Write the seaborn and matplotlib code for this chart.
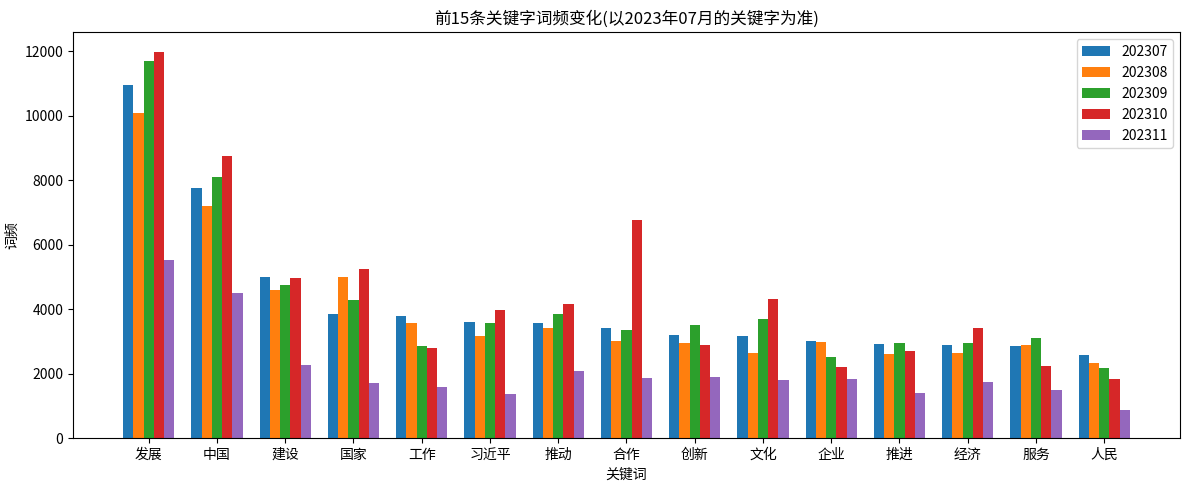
import matplotlib
matplotlib.use("Agg")

import matplotlib.pyplot as plt
import pandas as pd
import seaborn as sns

keywords = ["发展", "中国", "建设", "国家", "工作", "习近平", "推动", "合作",
            "创新", "文化", "企业", "推进", "经济", "服务", "人民"]
months = ["202307", "202308", "202309", "202310", "202311"]

freq_202307 = [10950, 7750, 4985, 3865, 3800, 3615, 3555, 3430, 3210, 3180, 3025, 2930, 2900, 2870, 2590]
freq_202308 = [10080, 7190, 4580, 4985, 3585, 3180, 3430, 3025, 2965, 2650, 2995, 2620, 2650, 2900, 2340]
freq_202309 = [11700, 8090, 4765, 4270, 2870, 3555, 3865, 3365, 3520, 3710, 2530, 2965, 2965, 3120, 2185]
freq_202310 = [11990, 8745, 4955, 5235, 2810, 3960, 4175, 6755, 2900, 4330, 2215, 2715, 3400, 2250, 1845]
freq_202311 = [5510, 4515, 2280, 1720, 1595, 1375, 2095, 1875, 1905, 1815, 1845, 1410, 1750, 1500, 880]

series = [freq_202307, freq_202308, freq_202309, freq_202310, freq_202311]
colors = ["#1f77b4", "#ff7f0e", "#2ca02c", "#d62728", "#9467bd"]

rows = []
for month, values in zip(months, series):
    for kw, v in zip(keywords, values):
        rows.append({"关键词": kw, "月份": month, "词频": v})
df = pd.DataFrame(rows)

plt.rcParams["font.family"] = ["Noto Sans CJK SC", "DejaVu Sans"]
plt.rcParams["axes.unicode_minus"] = False

fig, ax = plt.subplots(figsize=(11.9, 4.9), dpi=100)
sns.barplot(
    data=df,
    x="关键词",
    y="词频",
    hue="月份",
    order=keywords,
    hue_order=months,
    palette=colors,
    width=0.75,
    gap=0,
    saturation=1,
    errorbar=None,
    ax=ax,
)
ax.set_xlim(-1.11, 15.11)
ax.set_ylim(0, 12590)
ax.set_title("前15条关键字词频变化(以2023年07月的关键字为准)")
ax.set_xlabel("关键词")
ax.set_ylabel("词频")
ax.legend(title=None, loc="upper right")

fig.subplots_adjust(left=0.0613, right=0.9916, top=0.934, bottom=0.106)
plt.savefig("out.png", dpi=100)
plt.close(fig)
